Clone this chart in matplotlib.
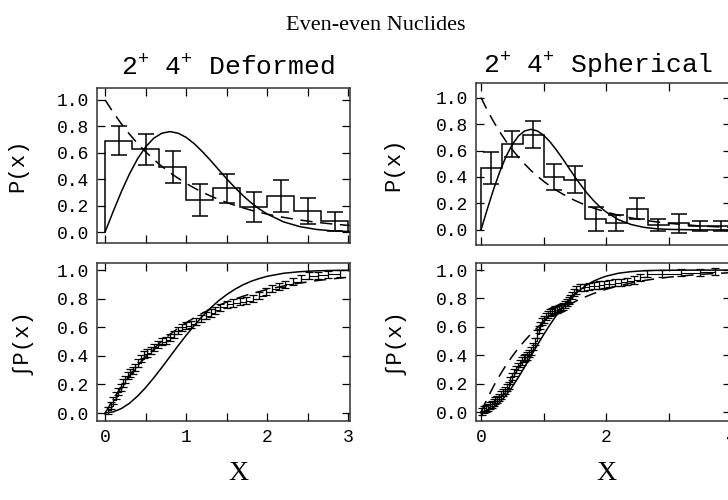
import numpy as np
import matplotlib
matplotlib.use("Agg")
import matplotlib.pyplot as plt

plt.rcParams['font.family'] = ['Liberation Mono', 'DejaVu Sans Mono']
plt.rcParams['mathtext.fontset'] = 'custom'
plt.rcParams['mathtext.rm'] = 'Liberation Mono'
plt.rcParams['mathtext.it'] = 'Liberation Mono'

# ---------------- data ----------------
# histograms (bin width 1/3)
edges_def = [0.0, 0.333, 0.667, 1.0, 1.333, 1.667, 2.0, 2.333, 2.667, 3.0]
hist_def = [0.69, 0.625, 0.49, 0.24, 0.33, 0.19, 0.27, 0.16, 0.08]
err_def = [0.11, 0.115, 0.12, 0.12, 0.11, 0.115, 0.12, 0.10, 0.075]

edges_sph = [0.0, 0.333, 0.667, 1.0, 1.333, 1.667, 2.0, 2.333, 2.667, 3.0,
             3.333, 3.667, 4.0]
hist_sph = [0.47, 0.65, 0.72, 0.40, 0.38, 0.08, 0.05, 0.16, 0.04, 0.05, 0.03, 0.03]
err_sph = [0.12, 0.10, 0.10, 0.10, 0.10, 0.09, 0.06, 0.08, 0.045, 0.07, 0.04, 0.04]

# theory curves (solid = Wigner-like, dashed = Poisson-like)
x_th = [0.0, 0.1, 0.2, 0.3, 0.4, 0.5, 0.6, 0.7, 0.8, 0.9, 1.0, 1.1, 1.2, 1.3,
        1.4, 1.5, 1.6, 1.7, 1.8, 1.9, 2.0, 2.2, 2.4, 2.6, 2.8, 3.0, 3.5, 4.0]
p_wig = [0.0, 0.156, 0.305, 0.439, 0.554, 0.645, 0.710, 0.748, 0.760, 0.748,
         0.716, 0.668, 0.608, 0.542, 0.472, 0.402, 0.337, 0.276, 0.222, 0.175,
         0.136, 0.077, 0.041, 0.020, 0.009, 0.004, 0.0, 0.0]
p_poi = [1.0, 0.905, 0.819, 0.741, 0.670, 0.607, 0.549, 0.497, 0.449, 0.407,
         0.368, 0.333, 0.301, 0.273, 0.247, 0.223, 0.202, 0.183, 0.165, 0.150,
         0.135, 0.111, 0.091, 0.074, 0.061, 0.050, 0.030, 0.018]
c_wig = [0.0, 0.008, 0.031, 0.068, 0.118, 0.178, 0.246, 0.319, 0.395, 0.471,
         0.544, 0.613, 0.677, 0.735, 0.786, 0.829, 0.866, 0.897, 0.922, 0.941,
         0.957, 0.978, 0.989, 0.995, 0.998, 0.999, 1.0, 1.0]
c_poi = [0.0, 0.095, 0.181, 0.259, 0.330, 0.393, 0.451, 0.503, 0.551, 0.593,
         0.632, 0.667, 0.699, 0.727, 0.753, 0.777, 0.798, 0.817, 0.835, 0.850,
         0.865, 0.889, 0.909, 0.926, 0.939, 0.950, 0.970, 0.982]

# cumulative data points
cx_def = [0.04, 0.07, 0.10, 0.13, 0.16, 0.19, 0.22, 0.25, 0.28, 0.31, 0.34, 0.37,
          0.40, 0.44, 0.48, 0.52, 0.56, 0.60, 0.65, 0.70, 0.75, 0.80, 0.85, 0.90,
          0.95, 1.00, 1.06, 1.12, 1.18, 1.24, 1.30, 1.36, 1.42, 1.50, 1.58, 1.66,
          1.74, 1.82, 1.90, 1.98, 2.06, 2.14, 2.22, 2.32, 2.42, 2.52, 2.62, 2.75,
          2.90]
cy_def = [0.02, 0.05, 0.09, 0.12, 0.15, 0.18, 0.21, 0.235, 0.26, 0.28, 0.30, 0.32,
          0.35, 0.38, 0.41, 0.42, 0.44, 0.46, 0.48, 0.50, 0.51, 0.53, 0.55, 0.58,
          0.60, 0.61, 0.62, 0.64, 0.66, 0.68, 0.70, 0.72, 0.74, 0.76, 0.77, 0.78,
          0.785, 0.80, 0.82, 0.85, 0.87, 0.885, 0.90, 0.92, 0.94, 0.96, 0.965, 0.97,
          0.975]

cx_sph = [0.02, 0.05, 0.08, 0.11, 0.14, 0.17, 0.20, 0.23, 0.26, 0.29, 0.32, 0.35,
          0.38, 0.41, 0.44, 0.47, 0.50, 0.53, 0.56, 0.59, 0.62, 0.65, 0.68, 0.71,
          0.74, 0.77, 0.80, 0.83, 0.86, 0.89, 0.92, 0.95, 0.98, 1.01, 1.04, 1.07,
          1.10, 1.13, 1.16, 1.19, 1.22, 1.25, 1.28, 1.31, 1.34, 1.37, 1.40, 1.43,
          1.46, 1.49, 1.52, 1.58, 1.65, 1.72, 1.80, 1.88, 1.96, 2.05, 2.14, 2.24,
          2.34, 2.44, 2.55, 2.66, 2.90, 3.20, 3.50, 3.75]
cy_sph = [0.005, 0.015, 0.025, 0.035, 0.045, 0.055, 0.065, 0.08, 0.09, 0.105,
          0.12, 0.135, 0.15, 0.17, 0.19, 0.22, 0.25, 0.28, 0.30, 0.32, 0.345, 0.36,
          0.375, 0.385, 0.395, 0.41, 0.43, 0.46, 0.50, 0.55, 0.58, 0.61, 0.635,
          0.655, 0.67, 0.685, 0.70, 0.71, 0.715, 0.72, 0.725, 0.73, 0.735, 0.745,
          0.76, 0.77, 0.785, 0.80, 0.82, 0.84, 0.86, 0.875, 0.88, 0.885, 0.89,
          0.895, 0.90, 0.905, 0.91, 0.915, 0.92, 0.93, 0.95, 0.975, 0.975, 0.98,
          0.985, 0.99]
cum_err = 0.025


def style_axes(ax, xlim, ylim, xstep, show_xlabels, label_every):
    ax.set_xlim(xlim)
    ax.set_ylim(ylim)
    ax.set_yticks([0.0, 0.2, 0.4, 0.6, 0.8, 1.0])
    ax.set_yticklabels(['0.0', '0.2', '0.4', '0.6', '0.8', '1.0'])
    xt = np.arange(0, xlim[1] + 1e-6, xstep)
    ax.set_xticks(xt)
    if show_xlabels:
        ax.set_xticklabels([f"{v:g}" if abs(v / label_every - round(v / label_every)) < 1e-6 else ''
                            for v in xt])
    else:
        ax.set_xticklabels([])
    ax.tick_params(direction='in', length=6, width=0.9, top=True, right=True,
                   labelsize=13, pad=6)
    for s in ax.spines.values():
        s.set_linewidth(1.1)
        s.set_color('#333333')


W, H = 728, 500
fig = plt.figure(figsize=(W / 100, H / 100), dpi=100)

def px_axes(l, t, r, b):
    return fig.add_axes([l / W, 1 - b / H, (r - l) / W, (b - t) / H])

ax1 = px_axes(97, 88, 350, 243)
ax2 = px_axes(97, 263, 350, 421)
ax3 = px_axes(476, 83, 731, 245)
ax4 = px_axes(476, 263, 731, 421)

lw = 1.1
dash = (0, (8, 5))
# ---- deformed, differential
ax1.stairs(hist_def, edges_def, color='k', lw=lw, baseline=0)
cen_def = [(edges_def[i] + edges_def[i + 1]) / 2 for i in range(len(hist_def))]
ax1.errorbar(cen_def, hist_def, yerr=err_def, fmt='none', ecolor='k',
             elinewidth=lw, capsize=6, capthick=lw)
ax1.plot(x_th, p_wig, color='k', lw=lw)
ax1.plot(x_th, p_poi, color='k', lw=lw, ls=dash)
style_axes(ax1, (-0.1, 3.02), (-0.083, 1.09), 0.5, False, 1)
ax1.set_ylabel('P(x)', fontsize=16)
ax1.yaxis.set_label_coords(-0.27, 0.5)

# ---- deformed, cumulative
ax2.plot(cx_def, cy_def, color='k', lw=0.8, drawstyle='steps-post')
ax2.errorbar(cx_def, cy_def, yerr=cum_err, fmt='none', ecolor='k',
             elinewidth=0.9, capsize=3, capthick=0.9)
ax2.plot(x_th, c_wig, color='k', lw=lw)
ax2.plot(x_th, c_poi, color='k', lw=lw, ls=dash)
style_axes(ax2, (-0.1, 3.02), (-0.056, 1.05), 0.5, True, 1)
ax2.set_ylabel('∫P(x)', fontsize=16)
ax2.yaxis.set_label_coords(-0.26, 0.5)

# ---- spherical, differential
ax3.stairs(hist_sph, edges_sph, color='k', lw=lw, baseline=0)
cen_sph = [(edges_sph[i] + edges_sph[i + 1]) / 2 for i in range(len(hist_sph))]
ax3.errorbar(cen_sph, hist_sph, yerr=err_sph, fmt='none', ecolor='k',
             elinewidth=lw, capsize=6, capthick=lw)
ax3.plot(x_th, p_wig, color='k', lw=lw)
ax3.plot(x_th, p_poi, color='k', lw=lw, ls=dash)
style_axes(ax3, (-0.08, 4.0), (-0.114, 1.11), 1.0, False, 2)
ax3.set_ylabel('P(x)', fontsize=16)
ax3.yaxis.set_label_coords(-0.28, 0.5)

# ---- spherical, cumulative
ax4.plot(cx_sph, cy_sph, color='k', lw=0.8, drawstyle='steps-post')
ax4.errorbar(cx_sph, cy_sph, yerr=cum_err, fmt='none', ecolor='k',
             elinewidth=0.9, capsize=3, capthick=0.9)
ax4.plot(x_th, c_wig, color='k', lw=lw)
ax4.plot(x_th, c_poi, color='k', lw=lw, ls=dash)
style_axes(ax4, (-0.08, 4.0), (-0.063, 1.05), 1.0, True, 2)
ax4.set_ylabel('∫P(x)', fontsize=16)
ax4.yaxis.set_label_coords(-0.28, 0.5)

# ---- texts
fig.text(376 / W, 1 - 25 / H, 'Even-even Nuclides', fontsize=16,
         family='Liberation Serif', ha='center', va='center')
fig.text(228 / W, 1 - 68 / H, '2$^{+}$ 4$^{+}$ Deformed', fontsize=19,
         ha='center', va='center')
fig.text(598 / W, 1 - 66 / H, '2$^{+}$ 4$^{+}$ Spherical', fontsize=19,
         ha='center', va='center')
fig.text(238 / W, 1 - 474 / H, 'X', fontsize=20, family='Liberation Serif',
         ha='center', va='center')
fig.text(606 / W, 1 - 474 / H, 'X', fontsize=20, family='Liberation Serif',
         ha='center', va='center')

fig.savefig('out.png', dpi=100)
